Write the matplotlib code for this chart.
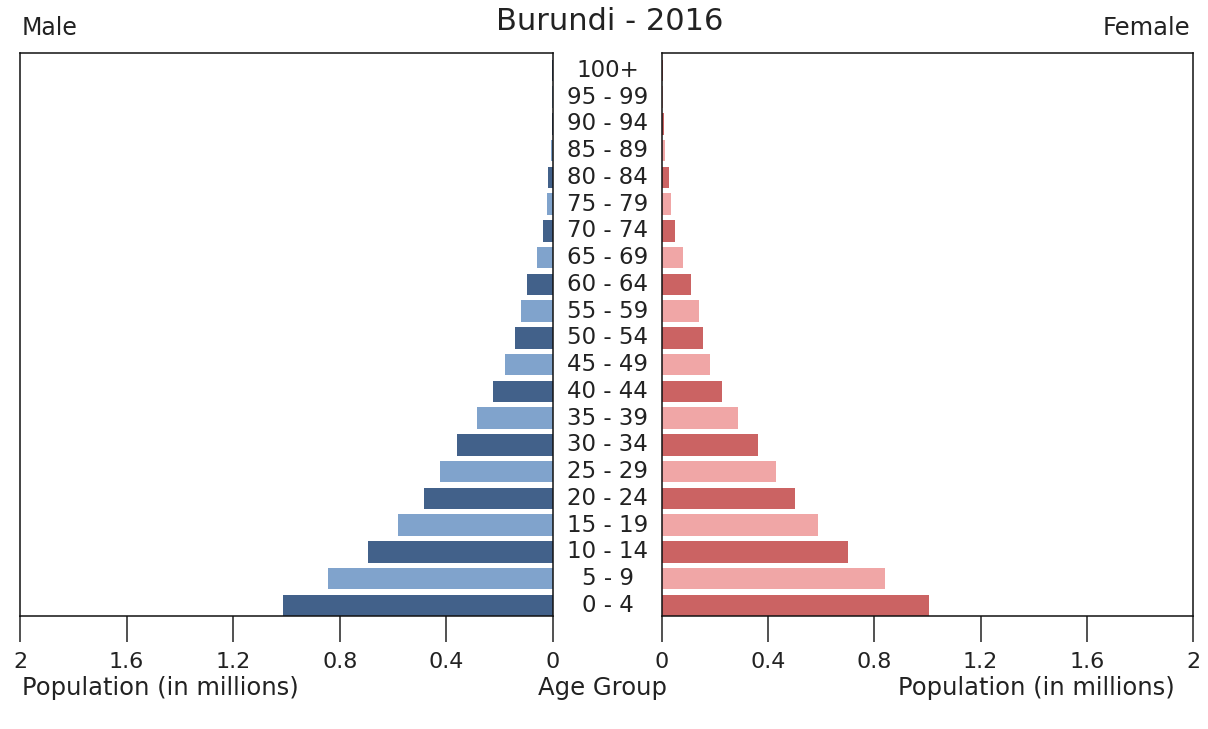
"""
Population pyramid for Burundi, 2016.
"""

import matplotlib.pyplot as plt
import matplotlib.transforms as mtransforms
import numpy as np

age_groups = [
    "0 - 4", "5 - 9", "10 - 14", "15 - 19", "20 - 24", "25 - 29", "30 - 34",
    "35 - 39", "40 - 44", "45 - 49", "50 - 54", "55 - 59", "60 - 64",
    "65 - 69", "70 - 74", "75 - 79", "80 - 84", "85 - 89", "90 - 94",
    "95 - 99", "100+",
]
# population in millions
male = [1.013, 0.844, 0.694, 0.582, 0.484, 0.424, 0.360, 0.285, 0.225, 0.180,
        0.143, 0.120, 0.098, 0.060, 0.038, 0.023, 0.019, 0.007, 0.005, 0.003,
        0.002]
female = [1.006, 0.840, 0.700, 0.588, 0.501, 0.430, 0.362, 0.286, 0.226, 0.181,
          0.154, 0.139, 0.109, 0.079, 0.049, 0.034, 0.026, 0.010, 0.006, 0.004,
          0.003]
xticks = [0, 0.4, 0.8, 1.2, 1.6, 2]
xtick_labels = ["0", "0.4", "0.8", "1.2", "1.6", "2"]

male_colors = ["#42618a", "#80a3cc"]
female_colors = ["#cb6363", "#f0a6a6"]

W, H = 1208, 729
fig = plt.figure(figsize=(W / 100, H / 100), dpi=100)

ax_l = fig.add_axes([20 / W, 1 - 616 / H, 533 / W, 563 / H])
ax_r = fig.add_axes([662 / W, 1 - 616 / H, 531 / W, 563 / H])

y = np.arange(len(age_groups))
mcols = [male_colors[i % 2] for i in y]
fcols = [female_colors[i % 2] for i in y]

ax_l.barh(y, male, height=0.8, color=mcols)
ax_r.barh(y, female, height=0.8, color=fcols)

ax_l.set_xlim(2, 0)
ax_r.set_xlim(0, 2)

for ax in (ax_l, ax_r):
    ax.set_ylim(-0.4, 20.65)
    ax.set_yticks([])
    ax.set_xticks(xticks)
    ax.set_xticklabels(xtick_labels)
    ax.tick_params(axis="x", direction="out", length=19, width=1.1,
                   labelsize=16, pad=7, colors="#222222")
    for sp in ax.spines.values():
        sp.set_linewidth(1.1)
        sp.set_color("#111111")

# age group labels in the gap between the two panels
trans = mtransforms.blended_transform_factory(fig.transFigure, ax_l.transData)
for yi, lab in zip(y, age_groups):
    ax_l.text(607.5 / W, yi, lab, transform=trans, ha="center", va="center",
              fontsize=16.5, color="#222222", clip_on=False)

fig.text(610 / W, 1 - 22 / H, "Burundi - 2016", ha="center", va="center",
         fontsize=22, color="#222222")
fig.text(22 / W, 1 - 28 / H, "Male", ha="left", va="center",
         fontsize=17, color="#222222")
fig.text(1190 / W, 1 - 28 / H, "Female", ha="right", va="center",
         fontsize=17.5, color="#222222")
fig.text(22 / W, 1 - 688 / H, "Population (in millions)", ha="left",
         va="center", fontsize=17.5, color="#222222")
fig.text(603 / W, 1 - 688 / H, "Age Group", ha="center", va="center",
         fontsize=17.5, color="#222222")
fig.text(1175 / W, 1 - 688 / H, "Population (in millions)", ha="right",
         va="center", fontsize=17.5, color="#222222")

fig.savefig("out.png", dpi=100)
